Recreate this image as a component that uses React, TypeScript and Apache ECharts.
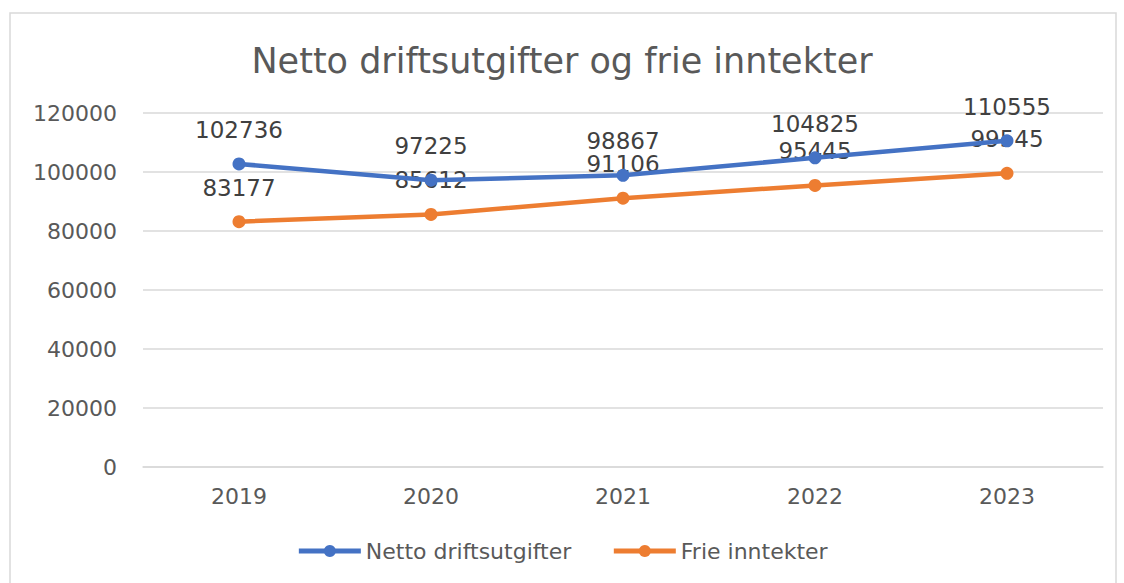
import React, { useEffect, useRef } from "react";
import * as echarts from "echarts";

const categories = ["2019", "2020", "2021", "2022", "2023"];
const nettoDriftsutgifter = [102736, 97225, 98867, 104825, 110555];
const frieInntekter = [83177, 85612, 91106, 95445, 99545];
const titleText = "Netto driftsutgifter og frie inntekter";
const seriesNames = ["Netto driftsutgifter", "Frie inntekter"];

const FONT = "DejaVu Sans";

export default function App() {
  const ref = useRef<HTMLDivElement>(null);
  useEffect(() => {
    document.body.style.margin = "0";
    const chart = echarts.init(ref.current!, null, { renderer: "svg" });
    const labelStyle = {
      show: true,
      position: "top" as const,
      distance: 16,
      fontFamily: FONT,
      fontSize: 23,
      color: "#404040",
    };
    chart.setOption({
      animation: false,
      backgroundColor: "#ffffff",
      textStyle: { fontFamily: FONT },
      graphic: [
        {
          type: "rect",
          shape: { x: 10, y: 13, width: 1106, height: 580 },
          style: { fill: "none", stroke: "#d9d9d9", lineWidth: 1.5 },
          silent: true,
          z: -1,
        },
      ],
      title: {
        text: titleText,
        left: "center",
        top: 38,
        textStyle: {
          fontFamily: FONT,
          fontSize: 35,
          fontWeight: "normal",
          color: "#595959",
        },
      },
      legend: {
        bottom: 16,
        left: "center",
        itemWidth: 62,
        itemHeight: 15,
        itemGap: 40,
        lineStyle: { width: 5 },
        textStyle: { fontFamily: FONT, fontSize: 22, color: "#595959" },
        data: seriesNames,
      },
      grid: { left: 143, right: 21, top: 113, bottom: 116 },
      xAxis: {
        type: "category",
        data: categories,
        boundaryGap: true,
        axisLine: { show: true, lineStyle: { color: "#d9d9d9", width: 1.5 } },
        axisTick: { show: false },
        axisLabel: {
          margin: 18,
          fontFamily: FONT,
          fontSize: 22,
          color: "#595959",
        },
      },
      yAxis: {
        type: "value",
        min: 0,
        max: 120000,
        interval: 20000,
        axisLine: { show: false },
        axisTick: { show: false },
        splitLine: { lineStyle: { color: "#d9d9d9", width: 1.5 } },
        axisLabel: {
          margin: 26,
          fontFamily: FONT,
          fontSize: 22,
          color: "#595959",
          formatter: (v: number) => String(v),
        },
      },
      series: [
        {
          name: seriesNames[0],
          type: "line",
          data: nettoDriftsutgifter,
          symbol: "circle",
          symbolSize: 13,
          color: "#4472C4",
          lineStyle: { width: 4.5, color: "#4472C4" },
          itemStyle: { color: "#4472C4" },
          label: labelStyle,
          z: 3,
        },
        {
          name: seriesNames[1],
          type: "line",
          data: frieInntekter,
          symbol: "circle",
          symbolSize: 13,
          color: "#ED7D31",
          lineStyle: { width: 4.5, color: "#ED7D31" },
          itemStyle: { color: "#ED7D31" },
          label: labelStyle,
          z: 2,
        },
      ],
    });
    return () => chart.dispose();
  }, []);
  return <div ref={ref} style={{ width: 1124, height: 583 }} />;
}
